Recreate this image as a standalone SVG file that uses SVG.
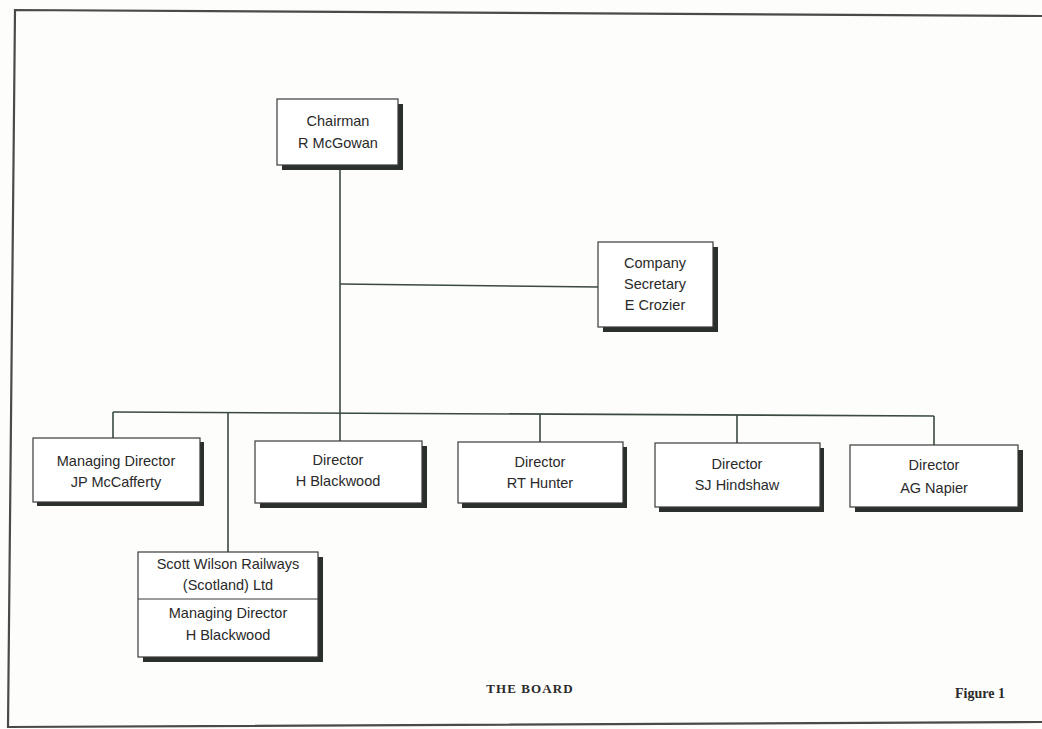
<svg xmlns="http://www.w3.org/2000/svg" width="1042" height="729" viewBox="0 0 1042 729">
<style>
.bg{fill:#fdfdfb}
.frame{fill:none;stroke:#4a4a4a;stroke-width:2.2}
.box{fill:#ffffff;stroke:#3a3a3a;stroke-width:1.2}
.shadow{fill:#2b302d}
.lbl{font-family:"Liberation Sans",Arial,sans-serif;font-size:14.5px;fill:#2a2a2a;text-anchor:middle}
.cap{font-family:"Liberation Serif","Times New Roman",serif;font-weight:bold;fill:#2a2a2a}
.conn{fill:none;stroke:#3a4a3f;stroke-width:1.6}
</style>
<rect class="bg" x="0" y="0" width="1042" height="729"/>
<path class="frame" d="M1042,16 L15,10 L8,727 L1042,722"/>

<g id="connectors">
<path class="conn" d="M340,165 L340,441"/>
<path class="conn" d="M340,284 L598,287"/>
<path class="conn" d="M113,412 L934,416"/>
<path class="conn" d="M113,412 L113,438"/>
<path class="conn" d="M228,413 L228,552"/>
<path class="conn" d="M540,414 L540,442"/>
<path class="conn" d="M737,415 L737,443"/>
<path class="conn" d="M934,416 L934,445"/>
</g>

<g id="chairman">
<rect class="shadow" x="282" y="104" width="121" height="66"/>
<rect class="box" x="277" y="99" width="121" height="66"/>
<text class="lbl" x="338" y="126">Chairman</text>
<text class="lbl" x="338" y="148">R McGowan</text>
</g>

<g id="secretary">
<rect class="shadow" x="603" y="247" width="115" height="85"/>
<rect class="box" x="598" y="242" width="115" height="85"/>
<text class="lbl" x="655" y="268">Company</text>
<text class="lbl" x="655" y="289">Secretary</text>
<text class="lbl" x="655" y="310">E Crozier</text>
</g>

<g id="md-mccafferty">
<rect class="shadow" x="37" y="442" width="167" height="64"/>
<rect class="box" x="33" y="438" width="167" height="64"/>
<text class="lbl" x="116" y="466">Managing Director</text>
<text class="lbl" x="116" y="487">JP McCafferty</text>
</g>

<g id="dir-blackwood">
<rect class="shadow" x="260" y="446" width="167" height="62"/>
<rect class="box" x="255" y="441" width="167" height="62"/>
<text class="lbl" x="338" y="465">Director</text>
<text class="lbl" x="338" y="486">H Blackwood</text>
</g>

<g id="dir-hunter">
<rect class="shadow" x="462" y="447" width="165" height="61"/>
<rect class="box" x="458" y="442" width="165" height="61"/>
<text class="lbl" x="540" y="467">Director</text>
<text class="lbl" x="540" y="488">RT Hunter</text>
</g>

<g id="dir-hindshaw">
<rect class="shadow" x="659" y="448" width="165" height="64"/>
<rect class="box" x="655" y="443" width="165" height="64"/>
<text class="lbl" x="737" y="469">Director</text>
<text class="lbl" x="737" y="490">SJ Hindshaw</text>
</g>

<g id="dir-napier">
<rect class="shadow" x="855" y="450" width="168" height="62"/>
<rect class="box" x="850" y="445" width="168" height="62"/>
<text class="lbl" x="934" y="470">Director</text>
<text class="lbl" x="934" y="493">AG Napier</text>
</g>

<g id="scott-wilson">
<rect class="shadow" x="143" y="557" width="180" height="105"/>
<rect class="box" x="138" y="552" width="180" height="105"/>
<line class="box" x1="138" y1="599" x2="318" y2="599"/>
<text class="lbl" x="228" y="569">Scott Wilson Railways</text>
<text class="lbl" x="228" y="590">(Scotland) Ltd</text>
<text class="lbl" x="228" y="618">Managing Director</text>
<text class="lbl" x="228" y="640">H Blackwood</text>
</g>

<text class="cap" x="530" y="693" font-size="13" letter-spacing="1.1" text-anchor="middle">THE BOARD</text>
<text class="cap" x="980" y="698" font-size="14" text-anchor="middle">Figure 1</text>
</svg>
